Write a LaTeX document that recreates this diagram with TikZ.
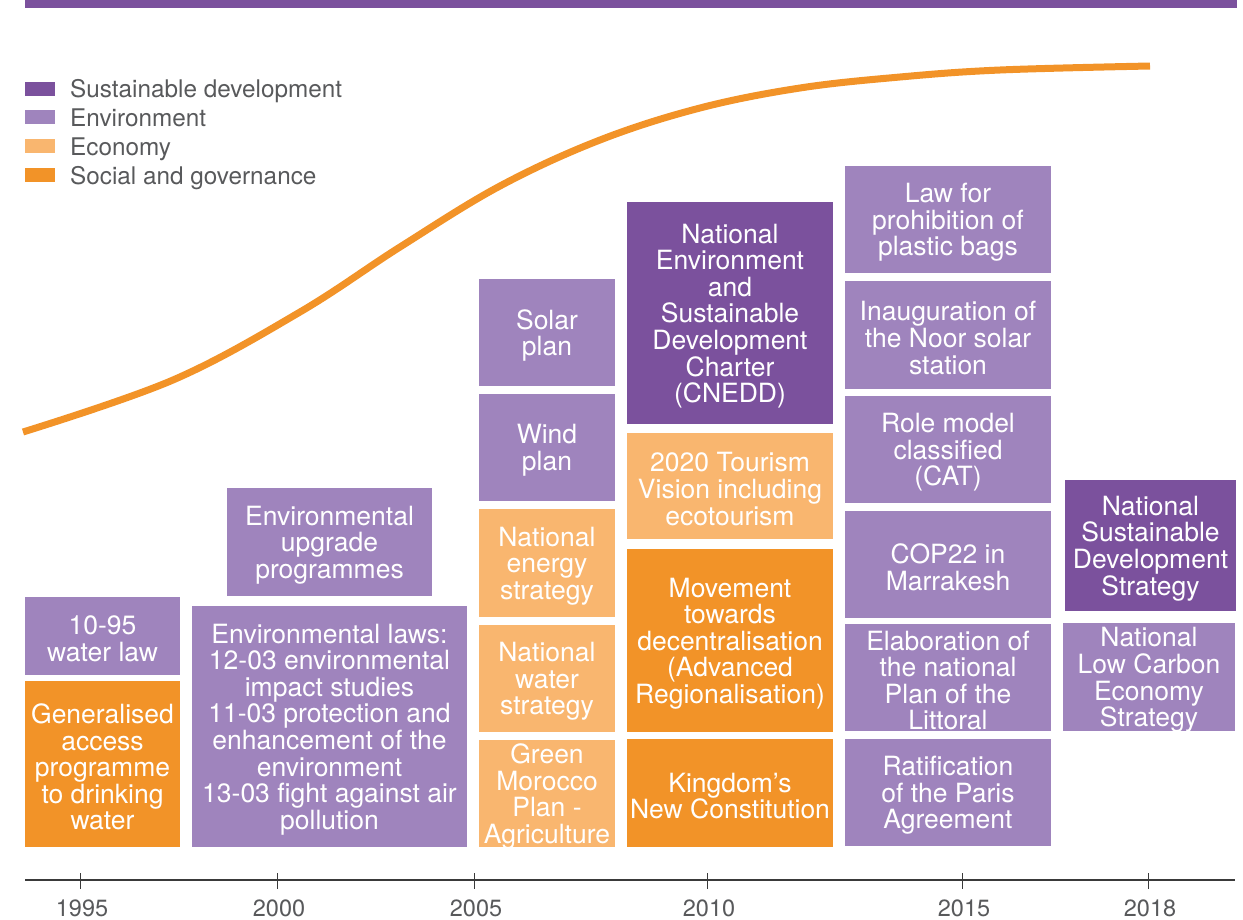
\documentclass[tikz,border=0pt]{standalone}
\usepackage{fontspec}
\setmainfont{TeX Gyre Heros}
\definecolor{sdc}{HTML}{7B519D}
\definecolor{envc}{HTML}{9F84BD}
\definecolor{ecoc}{HTML}{F9B66F}
\definecolor{socc}{HTML}{F29328}
\definecolor{txtc}{HTML}{58595B}
\definecolor{axc}{HTML}{3A3A3A}
\newcommand\tlbox[7]{%
  \node[tlb, fill=#6, minimum width={(#4-#2)*1pt}, minimum height={(#5-#3)*1pt}]
    (#1) at ({(#2+#4)/2},{(#3+#5)/2}) {};
  \node[tlt] (#1t) at ([yshift=-3pt]#1.center) {#7};}
\begin{document}
\begin{tikzpicture}[x=1pt,y=-1pt,
  tlb/.style={rectangle, inner sep=0pt, outer sep=0pt},
  tlt/.style={inner sep=0pt, text=white, align=center,
    font=\fontsize{26.5}{26.6}\selectfont},
  legsq/.style={rectangle, inner sep=0pt, minimum width=30pt, minimum height=14pt},
  legtx/.style={anchor=base west, inner sep=0pt, text=txtc, font=\fontsize{24.3}{25}\selectfont},
  yr/.style={anchor=base, inner sep=0pt, text=txtc, font=\fontsize{23.5}{24}\selectfont},
  tick/.style={draw=axc, line width=0.8pt},
  growth/.style={draw=socc, line width=7pt}]
\useasboundingbox (0,0) rectangle (1243,919);
% top band
\fill[sdc] (25,0) rectangle (1237,8);
% growth curve
\draw[growth] plot[smooth, tension=0.6] coordinates {(23,432) (173,380) (300,312) (400,247) (500,186) (600,140) (700,108) (800,88) (900,77) (1000,70) (1150,66)};
% legend
\node[legsq, fill=sdc]  (l1) at (40,89) {};
\node[legsq, fill=envc] (l2) at (40,117) {};
\node[legsq, fill=ecoc] (l3) at (40,146) {};
\node[legsq, fill=socc] (l4) at (40,175) {};
\node[legtx] (t1) at (70,97) {Sustainable development};
\node[legtx] (t2) at (70,126) {Environment};
\node[legtx] (t3) at (70,155) {Economy};
\node[legtx] (t4) at (70,184) {Social and governance};
% column 1995
\tlbox{b1}{25}{597}{180}{675}{envc}{10-95\\water law}
\tlbox{b2}{25}{681}{180}{847}{socc}{Generalised\\access\\programme\\to drinking\\water}
% column 2000
\tlbox{b3}{227}{488}{432}{596}{envc}{Environmental\\upgrade\\programmes}
\tlbox{b4}{192}{606}{467}{847}{envc}{Environmental laws:\\12-03 environmental\\impact studies\\11-03 protection and\\enhancement of the\\environment\\13-03 fight against air\\pollution}
% column 2005
\tlbox{b5}{479}{279}{615}{386}{envc}{Solar\\plan}
\tlbox{b6}{479}{394}{615}{501}{envc}{Wind\\plan}
\tlbox{b7}{479}{509}{615}{617}{ecoc}{National\\energy\\strategy}
\tlbox{b8}{479}{625}{615}{732}{ecoc}{National\\water\\strategy}
\tlbox{b9}{479}{740}{615}{847}{ecoc}{Green\\Morocco\\Plan -\\Agriculture}
% column 2010
\tlbox{b10}{627}{202}{833}{424}{sdc}{National\\Environment\\and\\Sustainable\\Development\\Charter\\(CNEDD)}
\tlbox{b11}{627}{433}{833}{539}{ecoc}{2020 Tourism\\Vision including\\ecotourism}
\tlbox{b12}{627}{549}{833}{732}{socc}{Movement\\towards\\decentralisation\\(Advanced\\Regionalisation)}
\tlbox{b13}{627}{739}{833}{847}{socc}{Kingdom’s\\New Constitution}
% column 2015
\tlbox{b14}{845}{166}{1051}{273}{envc}{Law for\\prohibition of\\plastic bags}
\tlbox{b15}{845}{281}{1051}{389}{envc}{Inauguration of\\the Noor solar\\station}
\tlbox{b16}{845}{396}{1051}{503}{envc}{Role model\\classified\\(CAT)}
\tlbox{b17}{845}{511}{1051}{618}{envc}{COP22 in\\Marrakesh}
\tlbox{b18}{845}{624}{1051}{731}{envc}{Elaboration of\\the national\\Plan of the\\Littoral}
\tlbox{b19}{845}{739}{1051}{846}{envc}{Ratification\\of the Paris\\Agreement}
% column 2018
\tlbox{b20}{1065}{480}{1236}{611}{sdc}{National\\Sustainable\\Development\\Strategy}
\tlbox{b21}{1063}{623}{1235}{731}{envc}{National\\Low Carbon\\Economy\\Strategy}
% axis
\coordinate (axL) at (25,880);
\coordinate (axR) at (1235,880);
\draw[axc, line width=1.5pt] (axL) -- (axR);
\foreach \x/\y in {80/1995,277/2000,474/2005,707/2010,962/2015,1148/2018}{
  \draw[tick] (\x,873) -- (\x,889);
  \node[yr] (y\y) at (\x+2,916) {\y};
}
\end{tikzpicture}
\end{document}
